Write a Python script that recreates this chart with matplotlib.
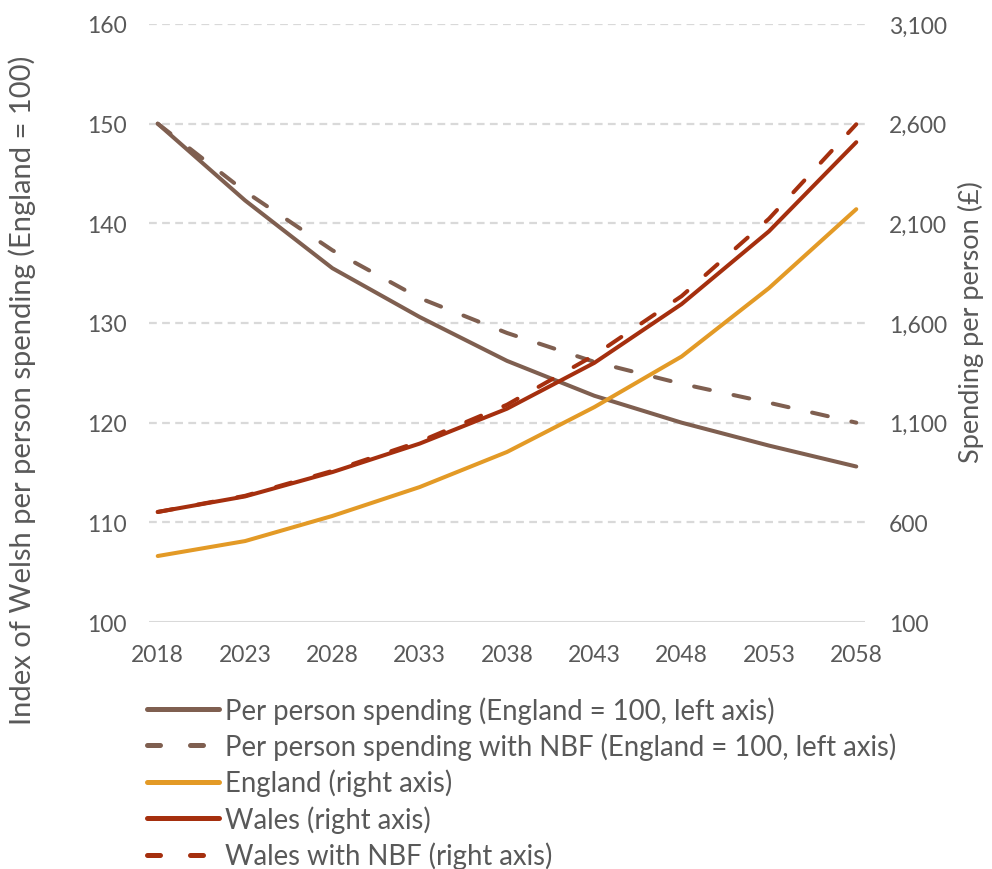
import matplotlib
matplotlib.use("Agg")
import matplotlib.pyplot as plt
from matplotlib.lines import Line2D
from matplotlib.ticker import FuncFormatter

years = [2018, 2023, 2028, 2033, 2038, 2043, 2048, 2053, 2058]
index_pp = [150.0, 142.3, 135.5, 130.6, 126.2, 122.7, 120.0, 117.7, 115.6]
index_pp_nbf = [150.0, 143.2, 137.3, 132.5, 129.0, 126.1, 123.9, 122.0, 120.0]
england = [431, 506, 632, 777, 953, 1178, 1432, 1775, 2171]
wales = [652, 730, 852, 995, 1170, 1400, 1695, 2060, 2507]
wales_nbf = [652, 733, 858, 1005, 1190, 1438, 1735, 2123, 2597]

xticks = list(range(2018, 2059, 5))
left_ticks = [100, 110, 120, 130, 140, 150, 160]
right_ticks = [100, 600, 1100, 1600, 2100, 2600, 3100]

legend_labels = [
    "Per person spending (England = 100, left axis)",
    "Per person spending with NBF (England = 100, left axis)",
    "England (right axis)",
    "Wales (right axis)",
    "Wales with NBF (right axis)",
]

BROWN = "#7F5F50"
YELLOW = "#E39A26"
RED = "#A52F0E"
GRAY_TXT = "#595959"
GRID = "#D9D9D9"

plt.rcParams['font.family'] = ['Lato', 'DejaVu Sans']

fig = plt.figure(figsize=(9.92, 8.7), dpi=100)
W, H = 992, 870
ax = fig.add_axes([149 / W, 1 - 623 / H, (865 - 149) / W, (623 - 25) / H])
ax2 = ax.twinx()

lw = 2.9
dash = (4, 6)
ax.plot(years, index_pp, color=BROWN, lw=lw, solid_capstyle='round', solid_joinstyle='round')
ax.plot(years, index_pp_nbf, color=BROWN, lw=lw, dashes=dash, dash_capstyle='round')
ax2.plot(years, england, color=YELLOW, lw=lw, solid_capstyle='round', solid_joinstyle='round')
ax2.plot(years, wales, color=RED, lw=lw, solid_capstyle='round', solid_joinstyle='round')
ax2.plot(years, wales_nbf, color=RED, lw=lw, dashes=dash, dash_capstyle='round')

ax.set_xlim(2017.5, 2058.5)
ax.set_ylim(100, 160)
ax2.set_ylim(100, 3100)
ax.set_xticks(xticks)
ax.set_yticks(left_ticks)
ax2.set_yticks(right_ticks)
ax2.yaxis.set_major_formatter(FuncFormatter(lambda v, p: f"{int(v):,}"))

for a in (ax, ax2):
    for s in a.spines.values():
        s.set_visible(False)
    a.tick_params(length=0, labelsize=16.5, labelcolor=GRAY_TXT)
ax.tick_params(axis='y', pad=16)
ax2.tick_params(axis='y', pad=17)
ax.tick_params(axis='x', pad=16)

for t in left_ticks[1:]:
    ax.axhline(t, color=GRID, lw=1.6, dashes=(3.5, 2.4), zorder=0)
ax.axhline(100, color=GRID, lw=2.2, zorder=0)

fig.text(22 / W, 1 - 390 / H, "Index of Welsh per person spending (England = 100)",
         rotation=90, ha='center', va='center', fontsize=21, color=GRAY_TXT)
fig.text(971 / W, 1 - 322 / H, "Spending per person (£)",
         rotation=90, ha='center', va='center', fontsize=19.5, color=GRAY_TXT)

hlw = 3.6
hd = (2.6, 6)
handles = [
    Line2D([], [], color=BROWN, lw=hlw, solid_capstyle='round'),
    Line2D([], [], color=BROWN, lw=hlw, dashes=hd, dash_capstyle='round'),
    Line2D([], [], color=YELLOW, lw=hlw, solid_capstyle='round'),
    Line2D([], [], color=RED, lw=hlw, solid_capstyle='round'),
    Line2D([], [], color=RED, lw=hlw, dashes=hd, dash_capstyle='round'),
]
leg = fig.legend(handles, legend_labels, loc='upper left',
                 bbox_to_anchor=(147 / W, 1 - 697 / H), frameon=False,
                 fontsize=19.8, handlelength=2.6, handletextpad=0.25,
                 labelspacing=0.32, borderaxespad=0, borderpad=0)
for t in leg.get_texts():
    t.set_color(GRAY_TXT)

fig.savefig("out.png", dpi=100)
